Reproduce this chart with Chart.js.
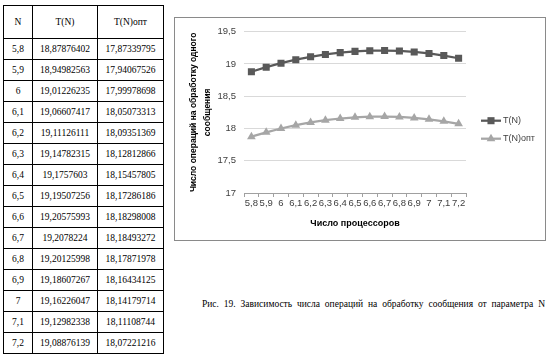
<!DOCTYPE html>
<html>
<head>
<meta charset="utf-8">
<script src="https://cdn.jsdelivr.net/npm/chart.js@4.4.1/dist/chart.umd.min.js"></script>
<style>
    body { margin: 0; background: #fff; width: 552px; height: 358px; position: relative; overflow: hidden; }
    #tabela { position: absolute; left: 3px; top: 5px; border-collapse: collapse; font-family: "Liberation Serif", serif; font-size: 9.5px; color: #000; }
    #tabela td, #tabela th { border: 1px solid #000; text-align: center; padding: 0; font-weight: normal; }
    #tabela th { height: 32px; }
    #tabela td { height: 20px; }
    #quadro { position: absolute; left: 174px; top: 17px; width: 370px; height: 222px; border: 1px solid #8a8a8a; }
    #legenda-fig { position: absolute; left: 202px; top: 299px; width: 343px; font-family: "Liberation Serif", serif; font-size: 9.5px;
        text-align: justify; text-align-last: justify; white-space: nowrap; }
</style>
</head>
<body>
<table id="tabela">
    <thead><tr><th style="width:28px">N</th><th style="width:64px">T(N)</th><th style="width:65px">T(N)опт</th></tr></thead>
    <tbody id="corpo"></tbody>
</table>
<div id="quadro"><canvas id="grafico" width="370" height="222"></canvas></div>
<div id="legenda-fig">Рис. 19. Зависимость числа операций на обработку сообщения от параметра N</div>
<script>
    const nValores = [5.8, 5.9, 6, 6.1, 6.2, 6.3, 6.4, 6.5, 6.6, 6.7, 6.8, 6.9, 7, 7.1, 7.2];
    const tValores = [18.87876402, 18.94982563, 19.01226235, 19.06607417, 19.11126111, 19.14782315, 19.1757603,
        19.19507256, 19.20575993, 19.2078224, 19.20125998, 19.18607267, 19.16226047, 19.12982338, 19.08876139];
    const tOptValores = [17.87339795, 17.94067526, 17.99978698, 18.05073313, 18.09351369, 18.12812866, 18.15457805,
        18.17286186, 18.18298008, 18.18493272, 18.17871978, 18.16434125, 18.14179714, 18.11108744, 18.07221216];
    const yTicks = [17, 17.5, 18, 18.5, 19, 19.5];

    const virgula = v => String(v).replace('.', ',');
    const rotulos = nValores.map(virgula);

    // tabela
    document.getElementById('corpo').innerHTML = nValores.map((n, i) =>
        `<tr><td>${virgula(n)}</td><td>${virgula(tValores[i])}</td><td>${virgula(tOptValores[i])}</td></tr>`).join('');

    // legenda desenhada com linha + marcador
    const legendaPlugin = {
        id: 'legendaLinha',
        afterDraw(chart) {
            const ctx = chart.ctx;
            const x0 = chart.chartArea.right + 15;
            const ys = [chart.chartArea.top + 89, chart.chartArea.top + 107];
            chart.data.datasets.forEach((ds, i) => {
                const y = ys[i];
                ctx.save();
                ctx.strokeStyle = ds.borderColor;
                ctx.lineWidth = ds.borderWidth;
                ctx.beginPath();
                ctx.moveTo(x0, y);
                ctx.lineTo(x0 + 20, y);
                ctx.stroke();
                ctx.fillStyle = ds.pointBackgroundColor;
                Chart.helpers.drawPoint(ctx, { pointStyle: ds.pointStyle, radius: ds.pointRadius, borderWidth: 0 }, x0 + 10, y);
                ctx.fillStyle = '#404040';
                ctx.font = '9px "Liberation Sans", sans-serif';
                ctx.textBaseline = 'middle';
                ctx.fillText(ds.label, x0 + 22, y);
                ctx.restore();
            });
        }
    };

    new Chart(document.getElementById('grafico').getContext('2d'), {
        type: 'line',
        data: {
            labels: rotulos,
            datasets: [{
                label: 'T(N)',
                data: tValores,
                borderColor: '#595959',
                backgroundColor: '#595959',
                pointBackgroundColor: '#595959',
                pointBorderWidth: 0,
                borderWidth: 2.25,
                pointStyle: 'rect',
                pointRadius: 5
            }, {
                label: 'T(N)опт',
                data: tOptValores,
                borderColor: '#a6a6a6',
                backgroundColor: '#a6a6a6',
                pointBackgroundColor: '#a6a6a6',
                pointBorderWidth: 0,
                borderWidth: 2.25,
                pointStyle: 'triangle',
                pointRadius: 5
            }]
        },
        options: {
            responsive: false,
            animation: false,
            layout: { padding: { left: 0, top: 13, right: 79, bottom: 0 } },
            plugins: { legend: { display: false }, tooltip: { enabled: false } },
            scales: {
                x: {
                    offset: true,
                    afterFit(scale) { scale.height = 47; },
                    grid: { offset: true, drawOnChartArea: false, drawTicks: true, tickLength: 4, color: '#a0a0a0' },
                    border: { color: '#a0a0a0' },
                    ticks: { autoSkip: false, maxRotation: 0, padding: 1, color: '#404040', font: { family: '"Liberation Sans", sans-serif', size: 9.5 } },
                    title: { display: true, text: 'Число процессоров', color: '#000', padding: { top: 0, bottom: 11 },
                        font: { family: '"Liberation Sans", sans-serif', size: 9, weight: 'bold' } }
                },
                y: {
                    min: 17,
                    max: 19.5,
                    afterFit(scale) { scale.width = 69; },
                    afterBuildTicks(scale) { scale.ticks = yTicks.map(v => ({ value: v })); },
                    grid: { color: '#d9d9d9', drawTicks: false },
                    border: { display: false },
                    ticks: { padding: 8, color: '#404040', font: { family: '"Liberation Sans", sans-serif', size: 9.5 },
                        callback: v => virgula(v) },
                    title: { display: true, text: ['Число операций на обработку одного', 'сообщения'], color: '#000',
                        padding: { top: 12, bottom: 0 },
                        font: { family: '"Liberation Sans", sans-serif', size: 8.5, weight: 'bold', lineHeight: '14px' } }
                }
            }
        },
        plugins: [legendaPlugin]
    });
</script>
</body>
</html>
